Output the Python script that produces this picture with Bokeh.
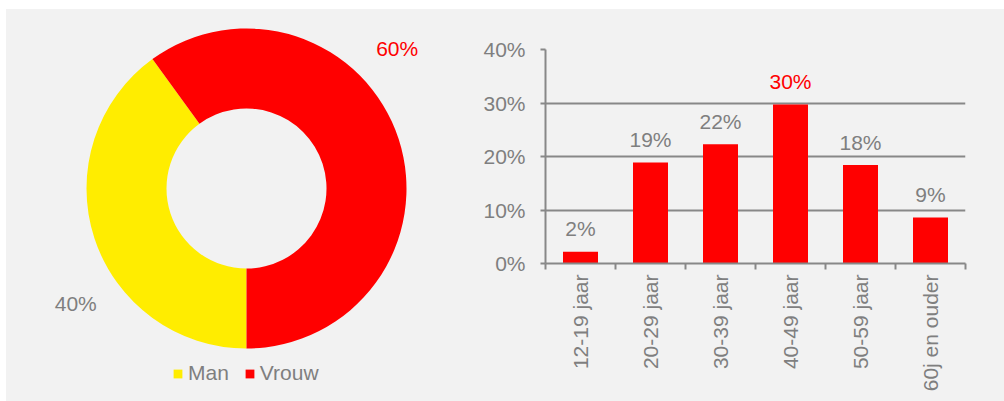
import numpy as np
from bokeh.plotting import figure
from bokeh.layouts import row
from bokeh.models import (ColumnDataSource, Range1d, FixedTicker, PrintfTickFormatter,
                          Legend, LegendItem)
from bokeh.core.properties import value
from bokeh.embed import file_html
from bokeh.resources import INLINE

# ---- data ----
gender = ["Man", "Vrouw"]
gender_share = [40, 60]
gender_labels = ["40%", "60%"]

age_groups = ["12-19 jaar", "20-29 jaar", "30-39 jaar", "40-49 jaar", "50-59 jaar", "60j en ouder"]
age_share = [2.2, 18.9, 22.3, 29.7, 18.4, 8.6]
age_labels = ["2%", "19%", "22%", "30%", "18%", "9%"]
y_ticks = [0, 10, 20, 30, 40]

# ---- style ----
BG = "#f2f2f2"
GRAY_TXT = "#7f7f7f"
GRAY_LINE = "#888888"
RED = "#ff0000"
YELLOW = "#ffed00"
FONT = "Liberation Sans"
FS = "21px"
H = 392
W1 = 472

# ---- donut ----
p1 = figure(width=W1, height=H, frame_width=W1, frame_height=H,
            x_range=Range1d(0, W1), y_range=Range1d(0, H),
            x_axis_location=None, y_axis_location=None, toolbar_location=None,
            output_backend="svg", min_border=0, background_fill_color=BG,
            border_fill_color=BG, outline_line_color=None)
p1.grid.visible = False

cx, cy = 240, H - 179
start_deg = 126
fracs = np.array(gender_share, dtype=float) / sum(gender_share)
ends = start_deg + np.cumsum(fracs) * 360
starts = np.concatenate([[start_deg], ends[:-1]])
src = ColumnDataSource(dict(start=np.deg2rad(starts), end=np.deg2rad(ends),
                            color=[YELLOW, RED], label=gender))
r = p1.annular_wedge(x=cx, y=cy, inner_radius=80, outer_radius=160,
                     start_angle="start", end_angle="end", fill_color="color",
                     line_color=None, source=src)

label_angle = np.deg2rad([214, 43])
label_r = 206
p1.text(x=cx + label_r * np.cos(label_angle), y=cy + label_r * np.sin(label_angle),
        text=gender_labels, text_color=[GRAY_TXT, RED], text_align="center",
        text_baseline="middle", text_font=value(FONT), text_font_size=FS)

legend = Legend(items=[LegendItem(label=g, renderers=[r], index=i) for i, g in enumerate(gender)],
                orientation="horizontal", location=(166, 16), glyph_width=11, glyph_height=11,
                label_standoff=5, spacing=15, padding=0, margin=0,
                background_fill_alpha=0, border_line_color=None,
                label_text_font_size=FS, label_text_color=GRAY_TXT, label_text_font=FONT)
p1.add_layout(legend, "center")

# ---- bars ----
n = len(age_groups)
centers = np.arange(n) + 0.5
p2 = figure(frame_width=420, frame_height=214, x_range=Range1d(0, n), y_range=Range1d(0, 40),
            toolbar_location=None, output_backend="svg",
            min_border_left=67, min_border_right=39, min_border_top=40, min_border_bottom=138,
            background_fill_color=BG, border_fill_color=BG, outline_line_color=None)
p2.vbar(x=centers, top=age_share, width=0.5, fill_color=RED, line_color=None)

vmax = max(age_share)
p2.text(x=centers, y=age_share, text=age_labels,
        text_color=[RED if v == vmax else GRAY_TXT for v in age_share],
        text_align="center", text_baseline="alphabetic", y_offset=-23,
        text_font=value(FONT), text_font_size=FS)

xa = p2.xaxis[0]
xa.ticker = FixedTicker(ticks=list(centers), minor_ticks=list(range(0, n + 1)))
xa.major_label_overrides = {float(c): g for c, g in zip(centers, age_groups)}
xa.major_label_orientation = np.pi / 2
xa.major_tick_line_color = None
xa.major_tick_out = 0
xa.major_tick_in = 0
xa.minor_tick_out = 6
xa.minor_tick_in = 0
xa.minor_tick_line_color = GRAY_LINE
xa.minor_tick_line_width = 2
xa.axis_line_color = GRAY_LINE
xa.axis_line_width = 2
xa.major_label_standoff = 5
xa.major_label_text_font = FONT
xa.major_label_text_font_size = FS
xa.major_label_text_color = GRAY_TXT

ya = p2.yaxis[0]
ya.ticker = FixedTicker(ticks=y_ticks)
ya.formatter = PrintfTickFormatter(format="%d%%")
ya.major_tick_out = 5
ya.major_tick_in = 0
ya.minor_tick_line_color = None
ya.major_tick_line_color = GRAY_LINE
ya.major_tick_line_width = 2
ya.axis_line_color = GRAY_LINE
ya.axis_line_width = 2
ya.major_label_standoff = 15
ya.major_label_text_font = FONT
ya.major_label_text_font_size = FS
ya.major_label_text_color = GRAY_TXT

p2.xgrid.visible = False
p2.ygrid.ticker = FixedTicker(ticks=y_ticks)
p2.ygrid.grid_line_color = GRAY_LINE
p2.ygrid.grid_line_width = 2

for p in (p1, p2):
    if "frame_align" in p.properties():
        p.frame_align = False

layout = row(p1, p2, spacing=0)
layout.margin = (9, 0, 0, 6)
layout.styles = {"background-color": BG}
open("out.html", "w").write(file_html(layout, INLINE))
